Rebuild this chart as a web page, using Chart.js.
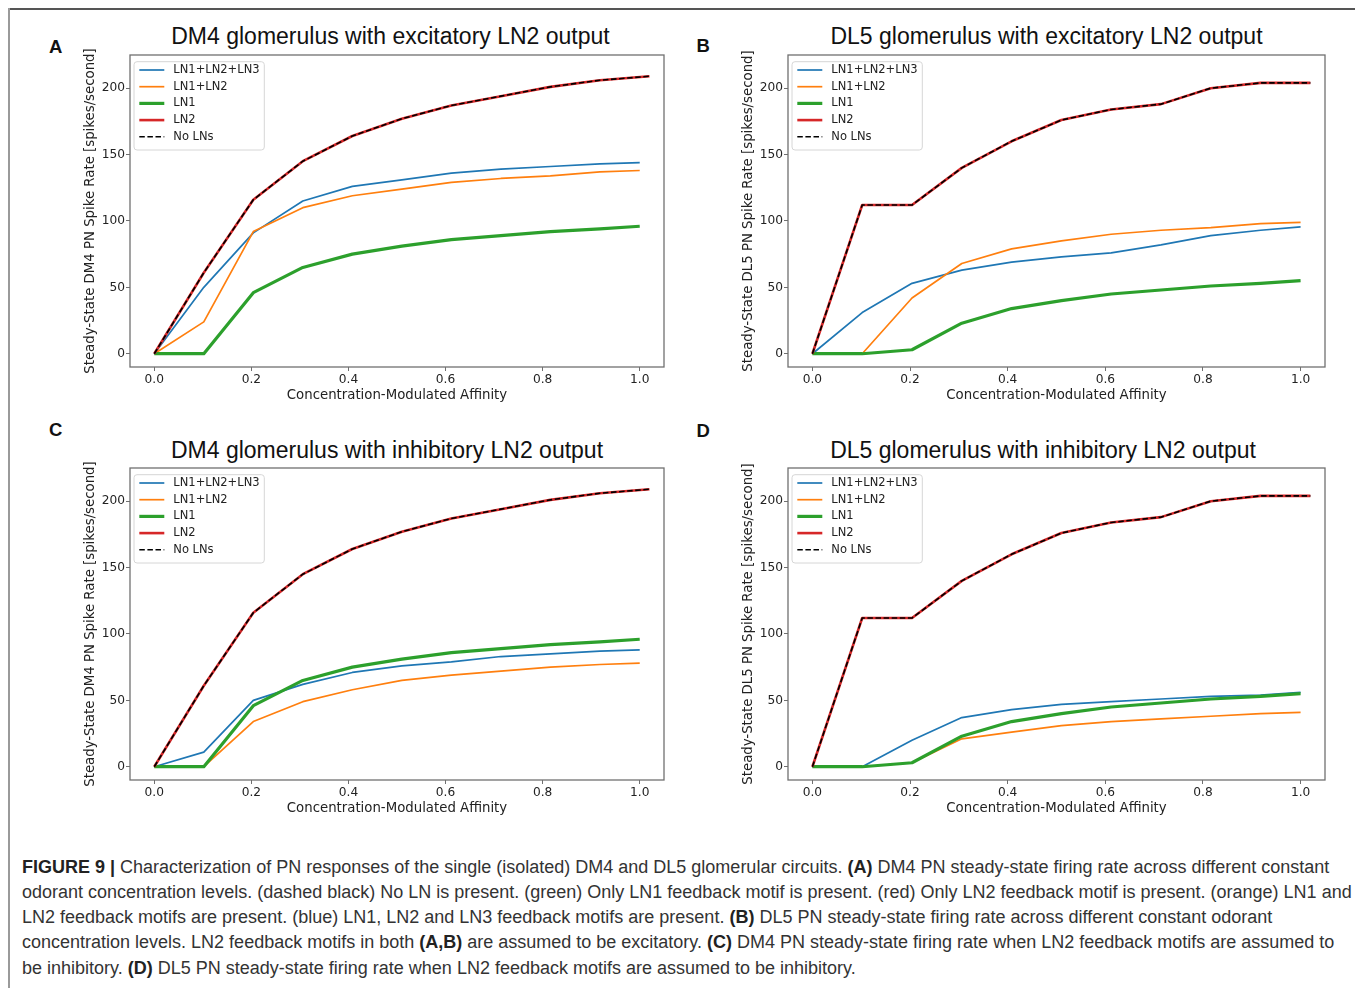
<!DOCTYPE html>
<html>
<head>
<meta charset="utf-8">
<script src="https://cdn.jsdelivr.net/npm/chart.js@4.4.0/dist/chart.umd.min.js"></script>
<style>
  body { margin:0; background:#fff; width:1355px; height:988px; overflow:hidden; position:relative; font-family:"DejaVu Sans", sans-serif; }
  #frame-top  { position:absolute; left:8px; top:8px; width:1347px; height:2px; background:#555; }
  #frame-left { position:absolute; left:8px; top:8px; width:2px; height:980px; background:#9a9a9a; }
  canvas { position:absolute; }
  .title { position:absolute; width:700px; text-align:center; font:23px/23px "Liberation Sans", Arial, sans-serif; color:#111; white-space:nowrap; }
  .panel { position:absolute; font:bold 18.5px/18.5px "Liberation Sans", Arial, sans-serif; color:#111; }
  #caption { position:absolute; left:22px; top:854.5px; font:18px/25.3px "Liberation Sans", Arial, sans-serif; color:#333; white-space:nowrap; }
  #caption b { color:#222; }
</style>
</head>
<body>
<div id="frame-top"></div>
<div id="frame-left"></div>

<div class="title" style="left:40.5px; top:25px;">DM4 glomerulus with excitatory LN2 output</div>
<div class="title" style="left:696.5px; top:25px;">DL5 glomerulus with excitatory LN2 output</div>
<div class="title" style="left:37px; top:438.5px;">DM4 glomerulus with inhibitory LN2 output</div>
<div class="title" style="left:693px; top:438.5px;">DL5 glomerulus with inhibitory LN2 output</div>

<canvas id="chart-a" width="587" height="361" style="left:83px; top:43px;"></canvas>
<canvas id="chart-b" width="590" height="361" style="left:741px; top:43px;"></canvas>
<canvas id="chart-c" width="587" height="361" style="left:83px; top:456px;"></canvas>
<canvas id="chart-d" width="590" height="361" style="left:741px; top:456px;"></canvas>

<div class="panel" style="left:49px; top:37.6px;">A</div>
<div class="panel" style="left:696.5px; top:37px;">B</div>
<div class="panel" style="left:49px; top:421px;">C</div>
<div class="panel" style="left:696.5px; top:422px;">D</div>

<div id="caption">
<b>FIGURE 9 |</b> Characterization of PN responses of the single (isolated) DM4 and DL5 glomerular circuits. <b>(A)</b> DM4 PN steady-state firing rate across different constant<br>
odorant concentration levels. (dashed black) No LN is present. (green) Only LN1 feedback motif is present. (red) Only LN2 feedback motif is present. (orange) LN1 and<br>
LN2 feedback motifs are present. (blue) LN1, LN2 and LN3 feedback motifs are present. <b>(B)</b> DL5 PN steady-state firing rate across different constant odorant<br>
concentration levels. LN2 feedback motifs in both <b>(A,B)</b> are assumed to be excitatory. <b>(C)</b> DM4 PN steady-state firing rate when LN2 feedback motifs are assumed to<br>
be inhibitory. <b>(D)</b> DL5 PN steady-state firing rate when LN2 feedback motifs are assumed to be inhibitory.
</div>

<script>
// ── Data ──────────────────────────────────────────────────
// the "No LNs" / LN2 runs go slightly past 1.0, the others stop at 1.0
const affinityNoLN = [0, 0.102, 0.204, 0.306, 0.408, 0.51, 0.612, 0.714, 0.816, 0.918, 1.02];
const affinity     = [0, 0.102, 0.204, 0.306, 0.408, 0.51, 0.612, 0.714, 0.816, 0.918, 1.0];
const xTicks = [0, 0.2, 0.4, 0.6, 0.8, 1.0];
const yTicks = [0, 50, 100, 150, 200];
const seriesLabels = ['LN1+LN2+LN3', 'LN1+LN2', 'LN1', 'LN2', 'No LNs'];

// DM4
const dm4NoLN     = [0, 61, 116, 145, 164, 177, 187, 194, 201, 206, 209];
const dm4LN2      = dm4NoLN; // red LN2 curve lies exactly under the dashed one
const dm4LN1      = [0, 0, 46, 65, 75, 81, 86, 89, 92, 94, 96];
const dm4ExcAll   = [0, 50, 91, 115, 126, 131, 136, 139, 141, 143, 144];
const dm4ExcLN12  = [0, 24, 92, 110, 119, 124, 129, 132, 134, 137, 138];
const dm4InhAll   = [0, 11, 50, 62, 71, 76, 79, 83, 85, 87, 88];
const dm4InhLN12  = [0, 0, 34, 49, 58, 65, 69, 72, 75, 77, 78];

// DL5
const dl5NoLN     = [0, 112, 112, 140, 160, 176, 184, 188, 200, 204, 204];
const dl5LN2      = dl5NoLN;
const dl5LN1      = [0, 0, 3, 23, 34, 40, 45, 48, 51, 53, 55];
const dl5ExcAll   = [0, 31, 53, 63, 69, 73, 76, 82, 89, 93, 95.5];
const dl5ExcLN12  = [0, 0, 42, 68, 79, 85, 90, 93, 95, 98, 99];
const dl5InhAll   = [0, 0, 20, 37, 43, 47, 49, 51, 53, 54, 56];
const dl5InhLN12  = [0, 0, 3, 21, 26, 31, 34, 36, 38, 40, 41];

// ── Styles ────────────────────────────────────────────────
const LINE_STYLES = [
  { color: '#1f77b4', width: 1.7 },
  { color: '#ff7f0e', width: 1.7 },
  { color: '#2ca02c', width: 3.2 },
  { color: '#d62728', width: 2.6 },
  { color: '#000000', width: 1.6, dash: [5.5, 2.6] }
];
const FRAME = '#707070';
const TEXT  = '#222';
const TICK_FONT = { family: 'DejaVu Sans', size: 12.2 };
const AXIS_FONT = { family: 'DejaVu Sans', size: 13.3 };

const toPoints = (xs, ys) => ys.map((y, i) => ({ x: xs[i], y }));

// frame on all four sides + matplotlib-style legend box
const frameAndLegend = {
  id: 'frameAndLegend',
  afterDatasetsDraw(chart) {
    const { ctx, chartArea: { left, top, right, bottom } } = chart;
    ctx.save();
    ctx.strokeStyle = FRAME;
    ctx.lineWidth = 1.3;
    ctx.strokeRect(left, top, right - left, bottom - top);

    ctx.beginPath();
    ctx.roundRect(left + 4, top + 6.7, 130.3, 88.3, 3);
    ctx.fillStyle = 'rgba(255,255,255,0.8)';
    ctx.fill();
    ctx.strokeStyle = '#d6d6d6';
    ctx.lineWidth = 1;
    ctx.stroke();

    ctx.font = '11.5px "DejaVu Sans"';
    ctx.textBaseline = 'middle';
    chart.data.datasets.forEach((ds, i) => {
      const y = top + 15 + i * 16.7;
      ctx.beginPath();
      ctx.setLineDash(ds.borderDash || []);
      ctx.strokeStyle = ds.borderColor;
      ctx.lineWidth = ds.borderWidth;
      ctx.moveTo(left + 9.3, y);
      ctx.lineTo(left + 34.3, y);
      ctx.stroke();
      ctx.setLineDash([]);
      ctx.fillStyle = TEXT;
      ctx.fillText(ds.label, left + 43.3, y);
    });
    ctx.restore();
  }
};

function makeChart(id, yTitle, series) {
  const xsFor = [affinity, affinity, affinity, affinityNoLN, affinityNoLN];
  const datasets = series.map((ys, i) => ({
    label: seriesLabels[i],
    data: toPoints(xsFor[i], ys),
    borderColor: LINE_STYLES[i].color,
    borderWidth: LINE_STYLES[i].width,
    borderDash: LINE_STYLES[i].dash || [],
    borderJoinStyle: 'round',
    pointRadius: 0,
    fill: false,
    tension: 0,
    order: series.length - 1 - i   // later series drawn on top, like matplotlib
  }));

  return new Chart(document.getElementById(id), {
    type: 'line',
    data: { datasets },
    options: {
      responsive: false,
      animation: false,
      devicePixelRatio: 1,
      layout: { padding: { left: 0, top: 12, right: 6, bottom: 0 } },
      plugins: { legend: { display: false }, tooltip: { enabled: false } },
      scales: {
        x: {
          type: 'linear', min: -0.05, max: 1.05,
          afterBuildTicks: s => { s.ticks = xTicks.map(v => ({ value: v })); },
          afterFit: s => { s.height = 37; },
          ticks: { callback: v => v.toFixed(1), font: TICK_FONT, color: TEXT, padding: 2, maxRotation: 0, autoSkip: false },
          grid: { drawOnChartArea: false, tickLength: 4, color: FRAME },
          border: { display: false },
          title: { display: true, text: 'Concentration-Modulated Affinity', font: AXIS_FONT, color: TEXT, padding: 0 }
        },
        y: {
          type: 'linear', min: -10, max: 225,
          afterBuildTicks: s => { s.ticks = yTicks.map(v => ({ value: v })); },
          afterFit: s => { s.width = 47; },
          ticks: { callback: v => String(v), font: TICK_FONT, color: TEXT, padding: 1, autoSkip: false },
          grid: { drawOnChartArea: false, tickLength: 4, color: FRAME },
          border: { display: false },
          title: { display: true, text: yTitle, font: AXIS_FONT, color: TEXT, padding: 0 }
        }
      }
    },
    plugins: [frameAndLegend]
  });
}

const DM4_Y = 'Steady-State DM4 PN Spike Rate [spikes/second]';
const DL5_Y = 'Steady-State DL5 PN Spike Rate [spikes/second]';

makeChart('chart-a', DM4_Y, [dm4ExcAll, dm4ExcLN12, dm4LN1, dm4LN2, dm4NoLN]);
makeChart('chart-b', DL5_Y, [dl5ExcAll, dl5ExcLN12, dl5LN1, dl5LN2, dl5NoLN]);
makeChart('chart-c', DM4_Y, [dm4InhAll, dm4InhLN12, dm4LN1, dm4LN2, dm4NoLN]);
makeChart('chart-d', DL5_Y, [dl5InhAll, dl5InhLN12, dl5LN1, dl5LN2, dl5NoLN]);
</script>
</body>
</html>
